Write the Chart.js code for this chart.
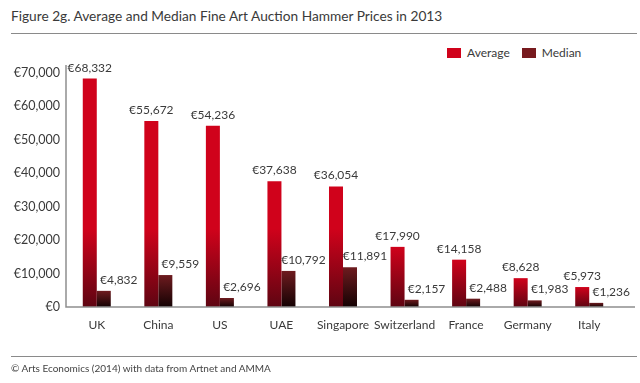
<!DOCTYPE html>
<html>
<head>
<meta charset="utf-8">
<script src="https://cdn.jsdelivr.net/npm/chart.js@4.4.1/dist/chart.umd.min.js"></script>
<style>
  html, body { margin: 0; padding: 0; background: #fff; }
  body { width: 640px; height: 383px; position: relative; overflow: hidden; font-family: Lato, "Open Sans", sans-serif; color: #3a3a3a; }
  #title { position: absolute; left: 11px; top: 7px; font-size: 13.7px; white-space: nowrap; }
  .rule { position: absolute; left: 11px; width: 626px; height: 0; border-top: 1.5px solid #8a8a8a; }
  #foot { position: absolute; left: 11px; top: 362px; font-size: 10px; white-space: nowrap; color: #444; }
  #legend { position: absolute; top: 45px; left: 447px; font-size: 12px; display: flex; align-items: center; }
  #legend .item { display: flex; align-items: center; margin-right: 12px; }
  #legend .box { width: 14px; height: 10px; margin-right: 6px; }
  #wrap { position: absolute; left: 0; top: 0; width: 640px; height: 383px; }
</style>
</head>
<body>
<div id="title">Figure 2g. Average and Median Fine Art Auction Hammer Prices in 2013</div>
<div class="rule" style="top:33px"></div>
<div id="legend"></div>
<div id="wrap"><canvas id="c" width="640" height="383"></canvas></div>
<div class="rule" style="top:356px"></div>
<div id="foot">© Arts Economics (2014) with data from Artnet and AMMA</div>
<script>
const categories = ['UK', 'China', 'US', 'UAE', 'Singapore', 'Switzerland', 'France', 'Germany', 'Italy'];
const averageValues = [68332, 55672, 54236, 37638, 36054, 17990, 14158, 8628, 5973];
const medianValues = [4832, 9559, 2696, 10792, 11891, 2157, 2488, 1983, 1236];
const seriesNames = ['Average', 'Median'];
const yTickValues = [0, 10000, 20000, 30000, 40000, 50000, 60000, 70000];
const legendColors = ['#d0021b', '#771a1e'];

const fmt = v => '€' + v.toLocaleString('en-US');

function avgFill(c) {
  const chart = c.chart;
  const area = chart.chartArea;
  if (!area || c.raw == null) return legendColors[0];
  const y = chart.scales.y;
  const bottom = y.getPixelForValue(0);
  const top = y.getPixelForValue(c.raw);
  const start = Math.max(top, bottom - 78);
  const g = chart.ctx.createLinearGradient(0, start, 0, bottom);
  g.addColorStop(0, '#d0021b');
  g.addColorStop(1, '#5e0512');
  return g;
}
function medFill(c) {
  const chart = c.chart;
  const area = chart.chartArea;
  if (!area || c.raw == null) return legendColors[1];
  const y = chart.scales.y;
  const bottom = y.getPixelForValue(0);
  const top = y.getPixelForValue(c.raw);
  const g = chart.ctx.createLinearGradient(0, top, 0, bottom);
  g.addColorStop(0, '#6e1b1f');
  g.addColorStop(1, '#140203');
  return g;
}

const labelPlugin = {
  id: 'valueLabels',
  afterDatasetsDraw(chart) {
    const ctx = chart.ctx;
    ctx.save();
    ctx.font = '12px Lato, "Open Sans", sans-serif';
    ctx.fillStyle = '#3a3a3a';
    ctx.textBaseline = 'alphabetic';
    ctx.textAlign = 'center';
    chart.data.datasets.forEach((ds, di) => {
      const meta = chart.getDatasetMeta(di);
      meta.data.forEach((el, i) => {
        const v = ds.data[i];
        const dx = di === 0 ? 0 : 15;
        ctx.fillText(fmt(v), el.x + dx, el.y - 7);
      });
    });
    ctx.restore();
  }
};

const axisPlugin = {
  id: 'axisLines',
  afterDatasetsDraw(chart) {
    const {ctx, chartArea} = chart;
    ctx.save();
    ctx.strokeStyle = '#8e8e8e';
    ctx.lineWidth = 1.5;
    ctx.beginPath();
    ctx.moveTo(chartArea.left, chartArea.top);
    ctx.lineTo(chartArea.left, chartArea.bottom);
    ctx.lineTo(chartArea.right + 15, chartArea.bottom);
    ctx.stroke();
    ctx.restore();
  }
};

const chart = new Chart(document.getElementById('c'), {
  type: 'bar',
  data: {
    labels: categories,
    datasets: [
      { label: seriesNames[0], data: averageValues, backgroundColor: avgFill, borderWidth: 0 },
      { label: seriesNames[1], data: medianValues, backgroundColor: medFill, borderWidth: 0 }
    ]
  },
  options: {
    responsive: false,
    animation: false,
    devicePixelRatio: 1,
    layout: { padding: { left: 0, right: 20, top: 65, bottom: 0 } },
    datasets: { bar: { categoryPercentage: 0.455, barPercentage: 1.0 } },
    plugins: { legend: { display: false }, tooltip: { enabled: false }, title: { display: false } },
    scales: {
      x: {
        grid: { display: false, drawTicks: false },
        border: { display: false },
        ticks: { color: '#3a3a3a', font: { family: 'Lato, "Open Sans", sans-serif', size: 12 }, padding: 11, maxRotation: 0, autoSkip: false },
        afterFit(s) { s.height = 76; }
      },
      y: {
        min: 0, max: 72400,
        grid: { display: false, drawTicks: false },
        border: { display: false },
        afterBuildTicks(s) { s.ticks = yTickValues.map(v => ({ value: v })); },
        ticks: { color: '#3a3a3a', font: { family: 'Lato, "Open Sans", sans-serif', size: 12.5 }, padding: 6, callback: v => fmt(v) },
        afterFit(s) { s.width = 66; }
      }
    }
  },
  plugins: [labelPlugin, axisPlugin]
});

const leg = document.getElementById('legend');
chart.data.datasets.forEach((ds, i) => {
  const item = document.createElement('div');
  item.className = 'item';
  const b = document.createElement('span');
  b.className = 'box';
  b.style.background = legendColors[i];
  const t = document.createElement('span');
  t.textContent = ds.label;
  item.appendChild(b); item.appendChild(t);
  leg.appendChild(item);
});
</script>
</body>
</html>
